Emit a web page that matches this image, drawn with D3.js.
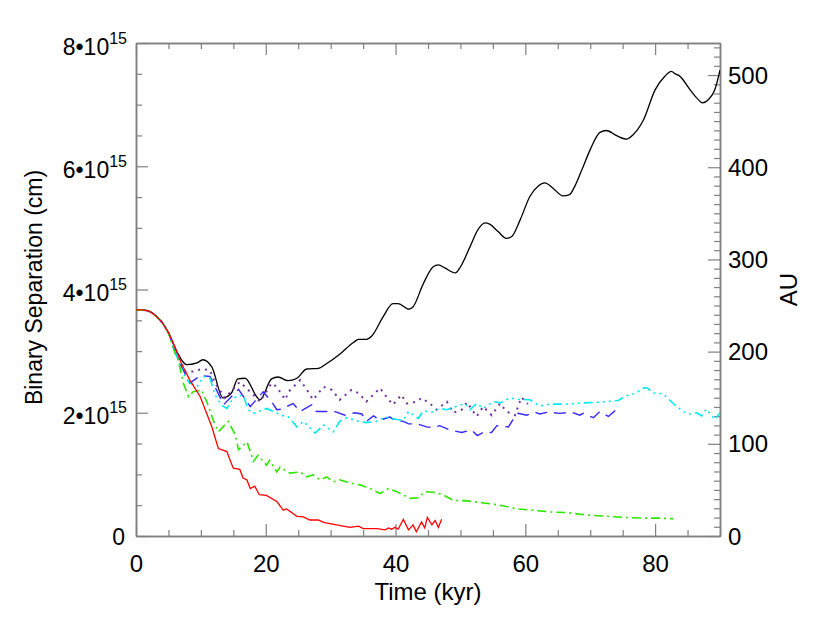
<!DOCTYPE html>
<html><head><meta charset="utf-8">
<script src="https://cdn.jsdelivr.net/npm/d3@7"></script>
<style>body{margin:0;background:#fff}svg{display:block}text{font-family:"Liberation Sans",Arial,Helvetica,sans-serif}</style>
</head><body><svg id="c" width="830" height="623"></svg>
<script>
// Time in kyr, separation in units of 1e15 cm
const sharedStart = [[0,3.67],[1,3.67],[2,3.65],[3,3.58],[4,3.47],[5,3.30]];
const blackSeries = [[6.3,2.99],[7.8,2.78],[9.4,2.81],[10.3,2.86],[11.7,2.74],[13.4,2.24],[14.7,2.32],[15.7,2.55],[16.8,2.56],[18.6,2.26],[19.1,2.21],[20.9,2.55],[21.9,2.58],[23.4,2.52],[24.8,2.56],[26.3,2.71],[28.1,2.72],[29.4,2.80],[31.4,2.95],[33.5,3.14],[34.3,3.19],[35.5,3.19],[36.3,3.24],[38.1,3.56],[39.6,3.77],[40.4,3.77],[42.1,3.68],[42.7,3.72],[44.3,4.10],[45.8,4.37],[46.6,4.40],[47.6,4.35],[49.2,4.27],[49.9,4.35],[51.5,4.70],[52.7,4.97],[53.8,5.08],[54.5,5.06],[55.8,4.94],[57.1,4.83],[57.9,4.86],[59.2,5.13],[60.7,5.51],[62.0,5.68],[63.0,5.73],[64.3,5.64],[65.8,5.52],[66.8,5.54],[67.6,5.67],[68.7,5.94],[70.0,6.27],[71.5,6.55],[72.5,6.58],[74.0,6.50],[75.6,6.44],[76.6,6.51],[78.2,6.75],[80.0,7.24],[81.5,7.46],[82.5,7.54],[83.1,7.50],[83.7,7.47],[85.4,7.24],[86.4,7.11],[87.3,7.03],[88.2,7.08],[89.2,7.24],[90.0,7.56]];
const purpleSeries = [[6.0,3.02],[7.6,2.67],[8.8,2.67],[10.1,2.71],[11.4,2.69],[12.2,2.48],[13.7,2.24],[16.0,2.50],[16.8,2.42],[18.6,2.24],[19.1,2.18],[20.9,2.48],[21.7,2.42],[23.0,2.21],[23.5,2.34],[25.3,2.53],[26.3,2.38],[27.3,2.21],[28.9,2.42],[30.2,2.37],[31.4,2.21],[33.2,2.37],[34.3,2.32],[35.5,2.18],[37.6,2.40],[38.6,2.26],[39.6,2.13],[40.9,2.29],[41.7,2.15],[43.3,2.18],[44.0,2.24],[45.3,2.15],[46.3,2.05],[47.9,2.18],[48.9,2.00],[50.2,2.05],[51.0,2.17],[52.5,1.94],[53.5,2.10],[54.8,1.96],[56.1,2.15],[57.1,2.02],[58.4,1.96],[59.4,2.25],[60.4,2.14]];
const blueSeries = [[6.0,3.0],[7.0,2.75],[8.3,2.48],[9.9,2.60],[11.4,2.59],[13.5,2.13],[15.8,2.38],[17.6,2.10],[19.6,2.34],[20.9,2.18],[21.7,2.05],[22.5,2.06],[24.2,2.15],[25.3,2.02],[27.1,2.13],[27.8,2.02],[29.4,2.02],[30.4,2.03],[32.2,1.96],[33.7,2.00],[34.8,1.98],[35.5,1.86],[36.6,1.95],[37.6,1.88],[39.1,1.93],[39.9,1.88],[41.2,1.86],[42.0,1.82],[43.3,1.82],[44.8,1.77],[45.8,1.76],[46.8,1.79],[48.4,1.72],[50.2,1.68],[51.7,1.72],[52.6,1.63],[53.5,1.68],[54.8,1.68],[55.6,1.79],[57.4,1.77],[58.4,1.94],[58.9,1.99],[60.2,1.96],[61.5,2.01],[62.2,1.98],[63.5,2.01],[65.3,1.99],[67.1,2.01],[68.4,1.96],[68.9,1.99],[70.5,1.92],[71.5,2.02],[72.8,1.94],[73.8,2.03],[74.3,1.94]];
const cyanSeries = [[6.0,3.0],[7.0,2.72],[8.1,2.50],[9.4,2.42],[10.4,2.59],[11.4,2.56],[12.2,2.29],[13.2,2.12],[14.0,2.07],[15.0,2.24],[16.5,2.29],[17.3,2.05],[18.1,1.99],[20.1,2.07],[21.2,2.02],[22.4,1.96],[23.5,1.93],[24.8,1.77],[25.8,1.86],[27.6,1.67],[28.9,1.80],[30.4,1.69],[31.4,1.86],[32.5,1.92],[34.3,1.86],[35.5,1.84],[37.1,1.86],[38.4,1.93],[40.2,1.89],[41.2,1.88],[42.0,2.02],[43.5,1.91],[44.3,2.03],[45.6,2.01],[46.8,2.07],[47.9,2.05],[50.7,2.15],[51.5,2.05],[52.5,2.15],[53.5,2.07],[55.1,2.18],[56.1,2.16],[57.6,2.24],[58.7,2.22],[60.7,2.21],[62.2,2.11],[63.8,2.14],[66.4,2.14],[68.9,2.16],[71.5,2.17],[74.3,2.20],[75.9,2.29],[76.9,2.31],[78.2,2.40],[78.7,2.41],[79.7,2.32],[81.2,2.31],[82.8,2.15],[84.3,2.02],[85.4,1.98],[86.4,2.00],[87.2,1.95],[87.9,2.06],[89.2,1.89],[90.0,2.00]];
const greenSeries = [[6.0,2.97],[6.5,2.86],[7.3,2.48],[8.1,2.26],[8.8,2.34],[10.1,2.37],[10.9,2.18],[11.9,1.88],[12.7,1.69],[14.2,1.86],[15.3,1.64],[15.8,1.40],[17.1,1.53],[18.1,1.21],[18.8,1.31],[20.1,1.15],[20.6,1.23],[21.7,1.04],[22.2,1.12],[23.7,1.02],[25.3,1.04],[26.3,0.96],[27.3,0.99],[28.4,0.91],[29.4,0.96],[30.4,0.88],[31.4,0.91],[33.0,0.86],[34.5,0.83],[36.1,0.77],[37.6,0.69],[38.9,0.77],[40.2,0.72],[42.2,0.61],[43.5,0.62],[44.5,0.72],[45.8,0.71],[47.3,0.67],[48.9,0.58],[51.0,0.57],[53.3,0.54],[56.1,0.50],[58.7,0.44],[61.2,0.42],[63.8,0.39],[66.4,0.38],[69.4,0.34],[72.5,0.32],[75.6,0.30],[78.2,0.29],[80.7,0.29],[82.8,0.28]];
const redSeries = [[6.0,3.07],[7.0,2.80],[8.3,2.53],[9.9,2.26],[11.7,1.77],[12.2,1.59],[12.7,1.42],[14.0,1.37],[14.5,1.23],[15.0,1.10],[16.0,1.08],[16.5,0.94],[17.1,0.91],[17.6,0.77],[18.3,0.81],[19.0,0.67],[20.1,0.66],[21.7,0.56],[22.7,0.42],[23.2,0.44],[24.8,0.32],[25.8,0.31],[26.8,0.26],[28.1,0.26],[28.9,0.22],[30.9,0.18],[33.0,0.14],[34.3,0.16],[35.0,0.12],[37.1,0.12],[38.4,0.10],[38.9,0.13],[39.4,0.11],[39.9,0.14],[40.4,0.11],[41.2,0.27],[42.0,0.10],[42.7,0.18],[43.2,0.07],[44.0,0.23],[44.5,0.13],[44.9,0.30],[45.6,0.18],[46.1,0.25],[46.6,0.14],[47.1,0.27]];

const xMajorTicks = [0,20,40,60,80];
const yMajorTicks = [0,2,4,6,8];
const yTickLabels = ["0","2•10","4•10","6•10","8•10"];
const auMajorTicks = [0,100,200,300,400,500];

const svg = d3.select("#c");
const L=136,R=720,T=43,B=536;
const x = d3.scaleLinear().domain([0,90]).range([L,R]);
const y = d3.scaleLinear().domain([0,8]).range([B,T]);
const auMax = 8e15/1.496e13;
const yAU = d3.scaleLinear().domain([0,auMax]).range([B,T]);
const axisColor = "#808080";

function styleAxis(g){
  g.selectAll("path.domain").attr("stroke",axisColor).attr("stroke-width",1.5);
  g.selectAll(".tick line").attr("stroke",axisColor).attr("stroke-width",1.2);
}
const minorX = d3.range(0,91,5).filter(v=>v%20!==0);
const minorY = d3.range(0,8.01,0.5).filter(v=>v%2!==0);
const minorAU = d3.range(0,auMax,10).filter(v=>v%100!==0);

// bottom axis
const gb = svg.append("g").attr("transform",`translate(0,${B})`);
gb.call(d3.axisBottom(x).tickValues(minorX).tickSize(-6).tickSizeOuter(0).tickFormat(""));
styleAxis(gb);
const gb2 = svg.append("g").attr("transform",`translate(0,${B})`);
gb2.call(d3.axisBottom(x).tickValues(xMajorTicks).tickSize(-12).tickSizeOuter(0).tickFormat(d3.format("d")));
styleAxis(gb2);
gb2.selectAll("text").attr("font-size",24).attr("fill","#000").attr("dy",null).attr("y",36);
// top axis
const gt = svg.append("g").attr("transform",`translate(0,${T})`);
gt.call(d3.axisTop(x).tickValues(minorX).tickSize(-6).tickSizeOuter(0).tickFormat(""));
styleAxis(gt);
const gt2 = svg.append("g").attr("transform",`translate(0,${T})`);
gt2.call(d3.axisTop(x).tickValues(xMajorTicks).tickSize(-12).tickSizeOuter(0).tickFormat(""));
styleAxis(gt2);
// left axis
const gl = svg.append("g").attr("transform",`translate(${L},0)`);
gl.call(d3.axisLeft(y).tickValues(minorY).tickSize(-6).tickSizeOuter(0).tickFormat(""));
styleAxis(gl);
const gl2 = svg.append("g").attr("transform",`translate(${L},0)`);
gl2.call(d3.axisLeft(y).tickValues(yMajorTicks).tickSize(-12).tickSizeOuter(0).tickFormat(""));
styleAxis(gl2);
gl2.selectAll(".tick").each(function(d,i){
  const t = d3.select(this).select("text").attr("font-size",23).attr("fill","#000").attr("x",-9).attr("dy",null).attr("y",11).text(null);
  if(d===0){ t.attr("x",-11).attr("y",8).text(yTickLabels[i]); return; }
  t.append("tspan").text(yTickLabels[i]);
  t.append("tspan").attr("font-size",16).attr("dy",-11).text("15");
});
// right axis (AU)
const gr = svg.append("g").attr("transform",`translate(${R},0)`);
gr.call(d3.axisRight(yAU).tickValues(minorAU).tickSize(-6).tickSizeOuter(0).tickFormat(""));
styleAxis(gr);
const gr2 = svg.append("g").attr("transform",`translate(${R},0)`);
gr2.call(d3.axisRight(yAU).tickValues(auMajorTicks).tickSize(-12).tickSizeOuter(0).tickFormat(d3.format("d")));
styleAxis(gr2);
gr2.selectAll("text").attr("font-size",24).attr("fill","#000").attr("x",8).attr("dy",null).attr("y",8);

// titles
svg.append("text").attr("x",(L+R)/2).attr("y",600).attr("text-anchor","middle").attr("font-size",24).text("Time (kyr)");
svg.append("text").attr("transform",`translate(42,${(T+B)/2 - 2}) rotate(-90)`).attr("text-anchor","middle").attr("font-size",23).text("Binary Separation (cm)");
svg.append("text").attr("transform",`translate(797,${(T+B)/2}) rotate(-90)`).attr("text-anchor","middle").attr("font-size",24).text("AU");

// lines
svg.append("clipPath").attr("id","pc").append("rect").attr("x",L).attr("y",T-2).attr("width",R-L).attr("height",B-T+2);
const series = [
  {data:blackSeries, color:"#000000", dash:null, curve:d3.curveMonotoneX, w:1.3},
  {data:purpleSeries, color:"#7030a0", dash:"2,5", curve:d3.curveLinear, w:2},
  {data:blueSeries, color:"#3428ff", dash:"12,7", curve:d3.curveLinear, w:1.4},
  {data:cyanSeries, color:"#00e8f0", dash:"9,4,2,4,2,4,2,4", curve:d3.curveLinear, w:1.6},
  {data:greenSeries, color:"#2ee600", dash:"9,4,2,4", curve:d3.curveLinear, w:1.6},
  {data:redSeries, color:"#ff0000", dash:null, curve:d3.curveLinear, w:1.3}
];
const gp = svg.append("g").attr("clip-path","url(#pc)");
series.forEach(s=>{
  const pts = sharedStart.concat(s.data);
  gp.append("path").datum(pts)
    .attr("fill","none").attr("stroke",s.color).attr("stroke-width",s.w)
    .attr("stroke-dasharray",s.dash)
    .attr("d",d3.line().x(d=>x(d[0])).y(d=>y(d[1])).curve(s.curve));
});
</script></body></html>
